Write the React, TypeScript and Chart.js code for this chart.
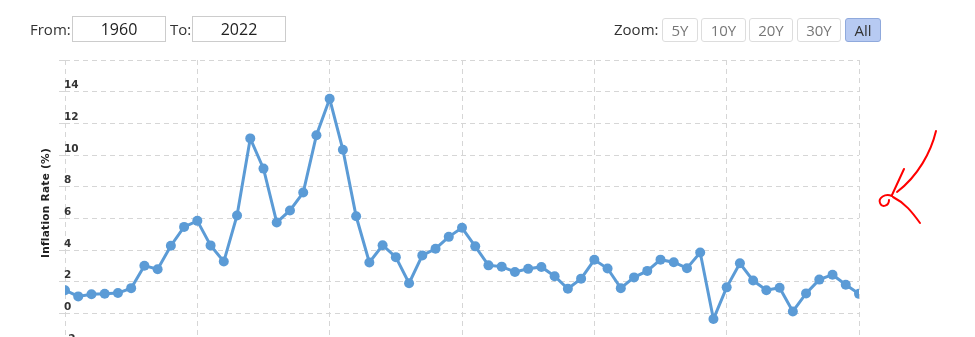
import React, { useEffect, useRef } from "react";
import { Chart, registerables } from "chart.js";

Chart.register(...registerables);

const years: number[] = [
  1960, 1961, 1962, 1963, 1964, 1965, 1966, 1967, 1968, 1969,
  1970, 1971, 1972, 1973, 1974, 1975, 1976, 1977, 1978, 1979,
  1980, 1981, 1982, 1983, 1984, 1985, 1986, 1987, 1988, 1989,
  1990, 1991, 1992, 1993, 1994, 1995, 1996, 1997, 1998, 1999,
  2000, 2001, 2002, 2003, 2004, 2005, 2006, 2007, 2008, 2009,
  2010, 2011, 2012, 2013, 2014, 2015, 2016, 2017, 2018, 2019, 2020,
];

const inflation: number[] = [
  1.46, 1.07, 1.2, 1.24, 1.28, 1.59, 3.01, 2.78, 4.27, 5.46,
  5.84, 4.29, 3.27, 6.18, 11.05, 9.14, 5.74, 6.5, 7.63, 11.25,
  13.55, 10.33, 6.13, 3.21, 4.3, 3.55, 1.9, 3.66, 4.08, 4.83,
  5.4, 4.23, 3.03, 2.95, 2.61, 2.81, 2.93, 2.34, 1.55, 2.19,
  3.38, 2.83, 1.59, 2.27, 2.68, 3.39, 3.23, 2.85, 3.84, -0.36,
  1.64, 3.16, 2.07, 1.46, 1.62, 0.12, 1.26, 2.13, 2.44, 1.81, 1.23,
];

const yTicks: number[] = [-2, 0, 2, 4, 6, 8, 10, 12, 14, 16];
const zoomButtons: string[] = ["5Y", "10Y", "20Y", "30Y", "All"];
const fromYear = "1960";
const toYear = "2022";
const yTitle = "Inflation Rate (%)";

const LINE = "rgb(91,155,214)";
const GRID = "#d6d6d6";

export default function App() {
  const ref = useRef<HTMLCanvasElement | null>(null);

  useEffect(() => {
    if (!ref.current) return;
    const chart = new Chart(ref.current, {
      type: "line",
      data: {
        datasets: [
          {
            data: years.map((yr, i) => ({ x: yr, y: inflation[i] })),
            borderColor: LINE,
            backgroundColor: LINE,
            borderWidth: 3,
            pointRadius: 5,
            pointBorderWidth: 0,
            pointBackgroundColor: LINE,
            tension: 0,
          },
        ],
      },
      options: {
        animation: false,
        responsive: false,
        layout: { padding: { left: 61, right: 116, top: 60, bottom: 55 } },
        plugins: { legend: { display: false }, tooltip: { enabled: false } },
        scales: {
          x: {
            type: "linear",
            min: 1960,
            max: 2020,
            ticks: { display: false, stepSize: 10 },
            grid: { color: GRID, drawTicks: false, lineWidth: 1 },
            border: { display: false, dash: [5, 4] },
          },
          y: {
            min: -2,
            max: 16,
            afterBuildTicks: (s: any) => {
              s.ticks = yTicks.map((v) => ({ value: v }));
            },
            ticks: {
              mirror: true,
              padding: -1,
              labelOffset: -6,
              color: "#333",
              font: { family: "DejaVu Sans", size: 10.5, weight: "bold" },
              callback: (v: any) => (v === 16 ? "" : String(v)),
            },
            grid: { color: GRID, drawTicks: true, tickLength: 6, lineWidth: 1 },
            border: { display: false, dash: [5, 4] },
          },
        },
      },
    });
    return () => chart.destroy();
  }, []);

  const box: React.CSSProperties = {
    position: "absolute",
    top: 16,
    height: 24,
    border: "1px solid #ccc",
    display: "flex",
    alignItems: "center",
    justifyContent: "center",
    fontSize: 16,
    color: "#222",
    background: "#fff",
  };
  const label: React.CSSProperties = {
    position: "absolute",
    top: 18,
    fontSize: 15,
    color: "#333",
    lineHeight: "22px",
  };
  const btnLefts = [662, 701, 749, 797, 845];
  const btnWidths = [36, 45, 44, 44, 36];

  return (
    <div
      style={{
        position: "fixed",
        left: 0,
        top: 0,
        width: 975,
        height: 337,
        overflow: "hidden",
        background: "#fff",
        fontFamily: "'Open Sans', 'Noto Sans', sans-serif",
      }}
    >
      <canvas ref={ref} width={975} height={400} style={{ position: "absolute", left: 0, top: 0 }} />
      <div style={{ ...label, left: 30 }}>From:</div>
      <div style={{ ...box, left: 72, width: 92 }}>{fromYear}</div>
      <div style={{ ...label, left: 170 }}>To:</div>
      <div style={{ ...box, left: 192, width: 92 }}>{toYear}</div>
      <div style={{ ...label, left: 614 }}>Zoom:</div>
      {zoomButtons.map((b, i) => {
        const active = b === "All";
        return (
          <div
            key={b}
            style={{
              position: "absolute",
              left: btnLefts[i],
              top: 18,
              width: btnWidths[i] - 2,
              height: 22,
              border: active ? "1px solid #8fa9dc" : "1px solid #ddd",
              borderRadius: 3,
              background: active ? "#b7caf2" : "#fff",
              color: active ? "#333" : "#777",
              fontSize: 15,
              display: "flex",
              alignItems: "center",
              justifyContent: "center",
            }}
          >
            {b}
          </div>
        );
      })}
      <div
        style={{
          position: "absolute",
          left: 45,
          top: 203,
          transform: "translate(-50%, -50%) rotate(-90deg)",
          whiteSpace: "nowrap",
          fontFamily: "'DejaVu Sans', sans-serif",
          fontWeight: "bold",
          fontSize: 10.5,
          color: "#222",
          letterSpacing: 0.3,
        }}
      >
        {yTitle}
      </div>
      <svg
        width={975}
        height={337}
        style={{ position: "absolute", left: 0, top: 0, pointerEvents: "none" }}
      >
        <g fill="none" stroke="#ff0000" strokeWidth={2} strokeLinecap="round">
          <path d="M936,131 C931,152 918,176 897,192" />
          <path d="M904,169 L892,195" />
          <path d="M892,196 C885,193 878,198 880,203 C882,208 889,206 889,200" />
          <path d="M893,197 C905,203 912,212 920,223" />
        </g>
      </svg>
    </div>
  );
}
